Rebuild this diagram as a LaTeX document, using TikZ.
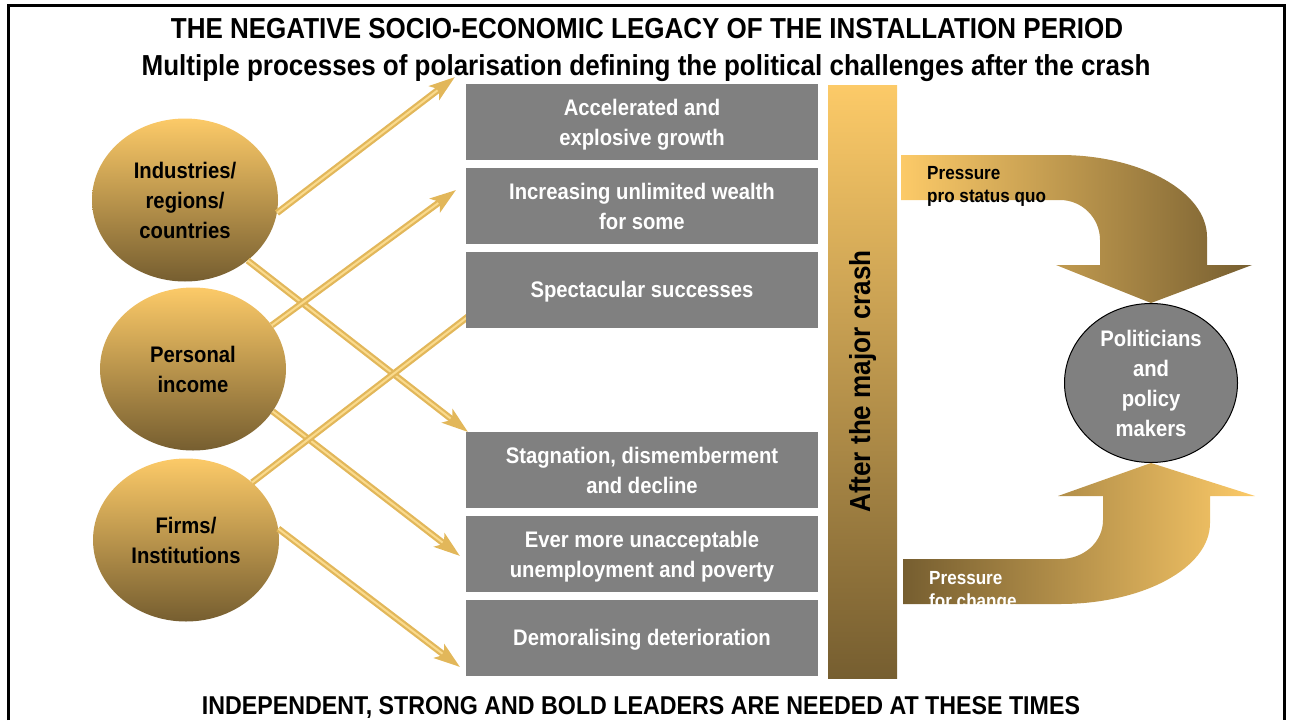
\documentclass[tikz,border=0pt]{standalone}
\usepackage{fontspec}
\setmainfont{Liberation Sans}[FakeStretch=0.9]
\usetikzlibrary{positioning,shapes.geometric,arrows.meta}
\definecolor{goldlight}{RGB}{252,202,104}
\definecolor{golddark}{RGB}{118,94,48}
\definecolor{goldline}{RGB}{226,183,90}
\definecolor{goldshine}{RGB}{250,218,140}
\definecolor{slate}{RGB}{128,128,128}

\begin{document}
\begin{tikzpicture}[x=1pt,y=-1pt,
      sector/.style={ellipse,minimum width=186pt,minimum height=163pt,inner sep=0pt,
        top color=goldlight,bottom color=golddark,align=center,
        font=\bfseries\fontsize{22.5}{30}\selectfont},
      stage/.style={fill=slate,text=white,minimum width=352pt,minimum height=76pt,
        inner sep=0pt,text depth=0pt,align=center,font=\bfseries\fontsize{22.5}{30}\selectfont},
      feed/.style={draw=goldline,line width=6.5pt,-{Stealth[length=26pt,width=17pt,inset=6pt]},
        postaction={draw=goldshine,line width=2pt,-,shorten >=22pt}},
      push/.style={anchor=west,inner sep=0pt,align=left,font=\bfseries\fontsize{19}{23}\selectfont},
      heading/.style={anchor=base,font=\bfseries\fontsize{28.9}{34}\selectfont}]
    \useasboundingbox (0,0) rectangle (1289,720);
    \draw[line width=3pt] (8,720) -- (8,5) -- (1284,5) -- (1284,720);

    \node[heading] (title) at (647,38.5) {THE NEGATIVE SOCIO-ECONOMIC LEGACY OF THE INSTALLATION PERIOD};
    \node[heading] (subtitle) at (646,75.5) {Multiple processes of polarisation defining the political challenges after the crash};

    \node[sector] (industry) at (185,200) {Industries/\\regions/\\countries};
    \node[sector] (income) at (193,369) {Personal\\income};
    \node[sector] (firms) at (186,540) {Firms/\\Institutions};

    \coordinate (growth) at (455,77);
    \coordinate (decline) at (468,432);
    \coordinate (wealth) at (456,190);
    \coordinate (poverty) at (460,556);
    \coordinate (success) at (500,292);
    \coordinate (morale) at (460,667);
    \foreach \from/\ang/\to in {industry/-8/growth, industry/-44/decline, income/29/wealth,
        income/-28/poverty, firms/41/success, firms/7/morale}
      \draw[feed] (\from.\ang) -- (\to);

    \node[stage] (box1) at (642,122) {Accelerated and\\explosive growth};
    \node[stage,below=7.5pt of box1] (box2) {Increasing unlimited wealth\\for some};
    \node[stage,below=7.5pt of box2] (box3) {Spectacular successes};
    \node[stage] (box4) at (642,470) {Stagnation, dismemberment\\and decline};
    \node[stage,below=7.5pt of box4] (box5) {Ever more unacceptable\\unemployment and poverty};
    \node[stage,below=7.5pt of box5] (box6) {Demoralising deterioration};

    \node[minimum width=69pt,minimum height=593pt,inner sep=0pt,
      top color=goldlight,bottom color=golddark] (crash) at (862.5,381.5) {};
    \node[rotate=90,font=\bfseries\fontsize{29}{34}\selectfont] (crashtext) at (crash.center) {After the major crash};

    \node[ellipse,minimum width=173pt,minimum height=159pt,inner sep=0pt,fill=slate,draw,line width=1pt,
      text=white,align=center,font=\bfseries\fontsize{22.5}{30}\selectfont] (policy) at (1151,383)
      {Politicians\\and\\policy\\makers};

    \shade[left color=goldlight,right color=golddark] (901,155) -- (1060,155)
      .. controls (1141,155) and (1207,192) .. (1207,237) -- (1207,265) -- (1252,265)
      -- (policy.north) -- (1056,265) -- (1100,265) -- (1100,240)
      .. controls (1100,218) and (1082,200) .. (1060,200) -- (901,200) -- cycle;
    \shade[left color=golddark,right color=goldlight] (903,604) -- (1060,604)
      .. controls (1143,604) and (1210,568) .. (1210,523) -- (1210,496) -- (1255,496)
      -- (policy.south) -- (1058,496) -- (1103,496) -- (1103,520)
      .. controls (1103,542) and (1084,559) .. (1060,559) -- (903,559) -- cycle;
    \node[push] (keep) at (927,186) {Pressure\\pro status quo};
    \node[push,text=white] (change) at (929,591) {Pressure\\for change};

    \node[heading,font=\bfseries\fontsize{25.8}{30}\selectfont] (leaders) at (641,714.5)
      {INDEPENDENT, STRONG AND BOLD LEADERS ARE NEEDED AT THESE TIMES};
  \end{tikzpicture}
\end{document}
